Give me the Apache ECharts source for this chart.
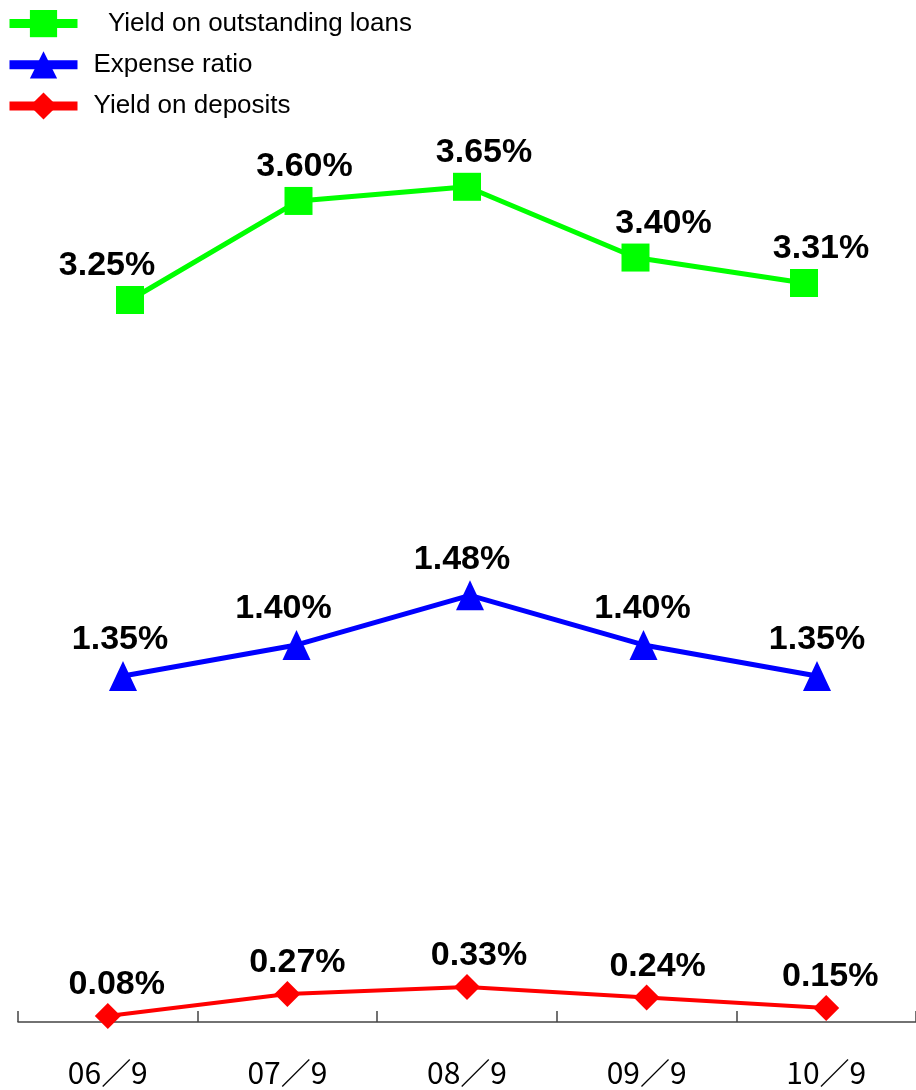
<!DOCTYPE html>
<html>
<head>
<meta charset="utf-8">
<script src="https://cdn.jsdelivr.net/npm/echarts@6/dist/echarts.min.js"></script>
<style>
  html, body { margin: 0; padding: 0; background: #fff; }
  #chart { width: 916px; height: 1090px; }
</style>
</head>
<body>
<div id="chart"></div>
<script>
const categories = ["06／9", "07／9", "08／9", "09／9", "10／9"];
const loanYield = [3.25, 3.60, 3.65, 3.40, 3.31];
const expenseRatio = [1.35, 1.40, 1.48, 1.40, 1.35];
const depositYield = [0.08, 0.27, 0.33, 0.24, 0.15];
const seriesNames = ["  Yield on outstanding loans", "Expense ratio", "Yield on deposits"];

// small horizontal nudges of the value labels, as in the original
const loanLabelDx = [-23, 6, 17, 28, 17];
const expenseLabelDx = [-3, -13, -8, -1, 0];
const depositLabelDx = [9, 10, 12, 11, 4];

const chart = echarts.init(document.getElementById("chart"));

const labelFont = {
  fontFamily: "Liberation Sans",
  fontWeight: "bold",
  fontSize: 34,
  color: "#000",
};

const withLabels = (values, dx) =>
  values.map((v, i) => ({
    value: v,
    label: { offset: [dx[i], 0] },
  }));

const hiddenCat = (gridIndex) => ({
  type: "category",
  gridIndex,
  data: categories,
  show: false,
});

const pct = (p) => p.value.toFixed(2) + "%";

chart.setOption({
  animation: false,
  legend: {
    orient: "vertical",
    left: 5,
    top: 10,
    padding: 0,
    itemWidth: 68,
    itemHeight: 34,
    itemGap: 14,
    lineStyle: { width: 9 },
    textStyle: {
      fontFamily: "Liberation Sans",
      fontSize: 26,
      color: "#000",
      padding: [0, 0, 0, 11],
    },
    data: seriesNames,
  },
  grid: [
    { left: 18, right: 0, top: 0, bottom: 68 },
    { left: 45.75, right: 27.75, top: 0, bottom: 68 },
    { left: 36.25, right: 12.25, top: 0, bottom: 68 },
  ],
  xAxis: [
    {
      type: "category",
      gridIndex: 0,
      data: categories,
      axisLine: { lineStyle: { color: "#444", width: 1.5 } },
      axisTick: {
        show: true,
        interval: 0,
        inside: true,
        length: 11,
        lineStyle: { color: "#444", width: 1.5 },
      },
      axisLabel: {
        margin: 36,
        fontFamily: "Noto Sans CJK JP",
        fontSize: 30,
        color: "#000",
      },
    },
    hiddenCat(1),
    hiddenCat(2),
  ],
  yAxis: [
    { type: "value", gridIndex: 0, min: 0.0283, max: 8.839, show: false },
    { type: "value", gridIndex: 1, min: 0.699, max: 4.31, show: false },
    { type: "value", gridIndex: 2, min: 0.792, max: 2.44, show: false },
  ],
  series: [
    {
      name: seriesNames[0],
      type: "line",
      xAxisIndex: 1,
      yAxisIndex: 1,
      data: withLabels(loanYield, loanLabelDx),
      symbol: "rect",
      symbolSize: 28,
      color: "#00ff00",
      lineStyle: { width: 5, color: "#00ff00" },
      label: { show: true, position: "top", distance: 3, formatter: pct, ...labelFont },
    },
    {
      name: seriesNames[1],
      type: "line",
      xAxisIndex: 2,
      yAxisIndex: 2,
      data: withLabels(expenseRatio, expenseLabelDx),
      symbol: "triangle",
      symbolSize: [28, 30],
      color: "#0000ff",
      lineStyle: { width: 5, color: "#0000ff" },
      label: { show: true, position: "top", distance: 4, formatter: pct, ...labelFont },
    },
    {
      name: seriesNames[2],
      type: "line",
      xAxisIndex: 0,
      yAxisIndex: 0,
      data: withLabels(depositYield, depositLabelDx),
      symbol: "diamond",
      symbolSize: 26,
      color: "#ff0000",
      lineStyle: { width: 4, color: "#ff0000" },
      label: { show: true, position: "top", distance: 1, formatter: pct, ...labelFont },
    },
  ],
});
</script>
</body>
</html>
